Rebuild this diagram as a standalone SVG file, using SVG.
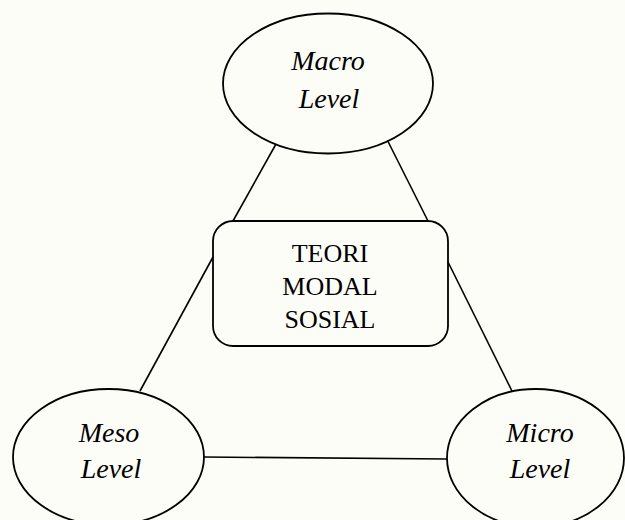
<svg xmlns="http://www.w3.org/2000/svg" width="625" height="520" viewBox="0 0 625 520">
<style>
.shape{fill:none;stroke:#000;stroke-width:1.8}
.conn{stroke:#000;stroke-width:1.6;fill:none}
.it{font-family:"Liberation Serif","Times New Roman",serif;font-style:italic;font-size:28px;fill:#000;text-anchor:middle}
.rg{font-family:"Liberation Serif","Times New Roman",serif;font-size:26px;fill:#000;text-anchor:middle}
</style>
<rect x="0" y="0" width="625" height="520" fill="#fdfdf8"/>
<g id="connectors">
<line class="conn" x1="276" y1="144" x2="233" y2="221"/>
<line class="conn" x1="387.5" y1="140.5" x2="428" y2="221"/>
<line class="conn" x1="213" y1="257" x2="140" y2="391"/>
<line class="conn" x1="448" y1="262" x2="512" y2="391"/>
<line class="conn" x1="204" y1="457" x2="447" y2="459"/>
</g>
<g id="macro">
<ellipse class="shape" cx="328" cy="83.5" rx="105" ry="70"/>
<text class="it" x="328" y="70">Macro</text>
<text class="it" x="329" y="108">Level</text>
</g>
<g id="teori">
<rect class="shape" x="213" y="221" width="235" height="125" rx="20" ry="20"/>
<text class="rg" x="330" y="262">TEORI</text>
<text class="rg" x="330" y="295">MODAL</text>
<text class="rg" x="330" y="328">SOSIAL</text>
</g>
<g id="meso">
<ellipse class="shape" cx="108.5" cy="457" rx="95.5" ry="68"/>
<text class="it" x="109" y="442">Meso</text>
<text class="it" x="111" y="478">Level</text>
</g>
<g id="micro">
<ellipse class="shape" cx="535.5" cy="458" rx="88.5" ry="69"/>
<text class="it" x="540" y="442">Micro</text>
<text class="it" x="540" y="478">Level</text>
</g>
</svg>
